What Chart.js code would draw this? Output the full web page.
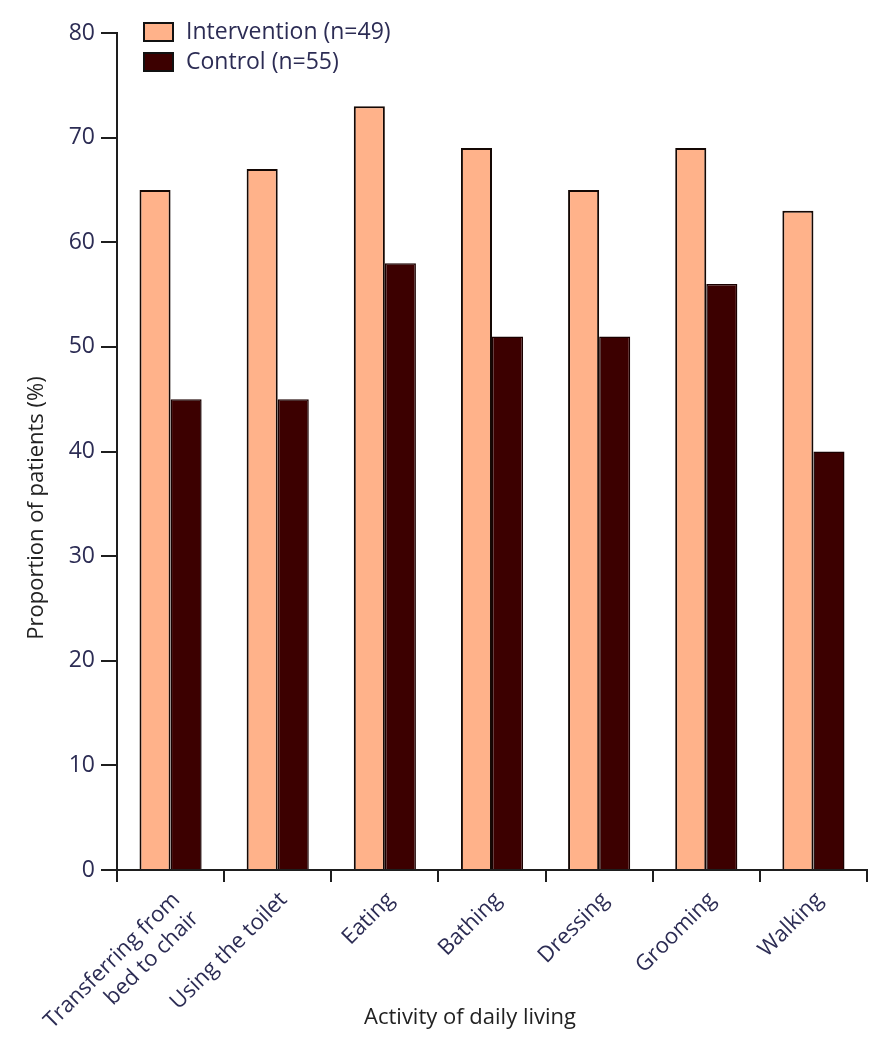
<!DOCTYPE html>
<html>
<head>
<meta charset="utf-8">
<script src="https://cdn.jsdelivr.net/npm/chart.js@4.4.0/dist/chart.umd.min.js"></script>
<style>
  html, body { margin: 0; padding: 0; background: #fff; }
  #wrap { width: 894px; height: 1050px; }
</style>
</head>
<body>
<div id="wrap"><canvas id="adlChart"></canvas></div>
<script>
const categories = [
    ['Transferring from', 'bed to chair'],
    'Using the toilet',
    'Eating',
    'Bathing',
    'Dressing',
    'Grooming',
    'Walking'
];
const seriesNames = ['Intervention (n=49)', 'Control (n=55)'];
const intervention = [65, 67, 73, 69, 65, 69, 63];
const control = [45, 45, 58, 51, 51, 56, 40];
const yTicks = [0, 10, 20, 30, 40, 50, 60, 70, 80];

const textColor = '#2c2c54';
const axisColor = '#1e1e1e';
const fontFamily = '"Open Sans", sans-serif';

// legend and axis titles drawn by hand so they sit where the original has them
const overlayPlugin = {
    id: 'overlay',
    afterDraw(chart) {
        const ctx = chart.ctx;
        ctx.save();
        chart.data.datasets.forEach((ds, i) => {
            const y = 23 + i * 30;
            ctx.fillStyle = ds.backgroundColor;
            ctx.strokeStyle = '#111';
            ctx.lineWidth = 2;
            ctx.fillRect(144, y, 29, 18);
            ctx.strokeRect(144, y, 29, 18);
            ctx.fillStyle = textColor;
            ctx.font = '23px ' + fontFamily;
            ctx.textBaseline = 'middle';
            ctx.textAlign = 'left';
            ctx.fillText(ds.label, 186, y + 9);
        });

        ctx.font = '22px ' + fontFamily;
        ctx.fillStyle = '#222';
        ctx.textAlign = 'center';
        ctx.textBaseline = 'middle';
        ctx.fillText('Activity of daily living', 470, 1018);

        ctx.translate(37, 508);
        ctx.rotate(-Math.PI / 2);
        ctx.fillText('Proportion of patients (%)', 0, 0);
        ctx.restore();
    }
};

const ctx = document.getElementById('adlChart');
new Chart(ctx, {
    type: 'bar',
    data: {
        labels: categories,
        datasets: [
            {
                label: seriesNames[0],
                data: intervention,
                backgroundColor: '#FFB28A',
                borderColor: '#140804',
                borderWidth: 2
            },
            {
                label: seriesNames[1],
                data: control,
                backgroundColor: '#3C0000',
                borderColor: '#1a0000',
                borderWidth: 1.5
            }
        ]
    },
    options: {
        responsive: true,
        maintainAspectRatio: false,
        animation: false,
        layout: { padding: { left: 0, right: 27, top: 33, bottom: 0 } },
        datasets: { bar: { categoryPercentage: 0.58, barPercentage: 1.0 } },
        plugins: {
            legend: { display: false },
            tooltip: { enabled: false }
        },
        scales: {
            x: {
                grid: {
                    offset: true,
                    drawOnChartArea: false,
                    drawTicks: true,
                    tickLength: 12,
                    color: axisColor,
                    lineWidth: 2
                },
                border: { color: axisColor, width: 2 },
                ticks: {
                    color: textColor,
                    font: { family: fontFamily, size: 22 },
                    minRotation: 45,
                    maxRotation: 45,
                    padding: 5,
                    labelOffset: 6,
                    autoSkip: false
                },
                afterFit(scale) { scale.height = 180; }
            },
            y: {
                min: 0,
                max: 80,
                afterBuildTicks(scale) {
                    scale.ticks = yTicks.map(v => ({ value: v }));
                },
                grid: {
                    drawOnChartArea: false,
                    drawTicks: true,
                    tickLength: 16,
                    color: axisColor,
                    lineWidth: 2
                },
                border: { color: axisColor, width: 2 },
                ticks: {
                    color: textColor,
                    font: { family: fontFamily, size: 23 },
                    padding: 6
                },
                afterFit(scale) { scale.width = 117; }
            }
        }
    },
    plugins: [overlayPlugin]
});
</script>
</body>
</html>
